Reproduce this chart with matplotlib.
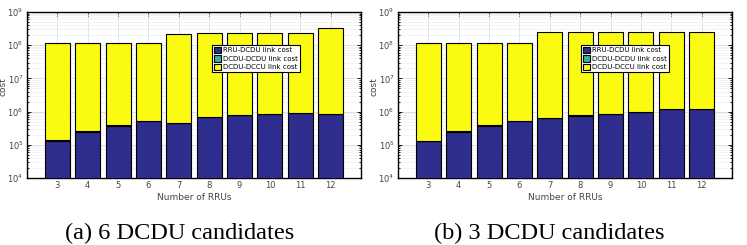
import numpy as np
import matplotlib
matplotlib.use('Agg')
import matplotlib.pyplot as plt

# Number of RRUs
rrus = [3, 4, 5, 6, 7, 8, 9, 10, 11, 12]

# (a) 6 DCDU candidates
rru_dcdu_a = [1.32e5, 2.5e5, 3.8e5, 5.2e5, 4.4e5, 6.9e5, 7.8e5, 8.5e5, 9.3e5, 8.7e5]
dcdu_dcdu_a = [4e3, 4e3, 4e3, 4e3, 4e3, 4e3, 4e3, 4e3, 4e3, 4e3]
total_a = [1.15e8, 1.15e8, 1.15e8, 1.15e8, 2.2e8, 2.35e8, 2.35e8, 2.35e8, 2.35e8, 3.4e8]

# (b) 3 DCDU candidates
rru_dcdu_b = [1.3e5, 2.5e5, 3.8e5, 5.2e5, 6.3e5, 7.6e5, 8.7e5, 1.0e6, 1.17e6, 1.17e6]
dcdu_dcdu_b = [4e3, 4e3, 4e3, 4e3, 4e3, 4e3, 4e3, 4e3, 4e3, 4e3]
total_b = [1.15e8, 1.15e8, 1.15e8, 1.15e8, 2.55e8, 2.55e8, 2.55e8, 2.55e8, 2.55e8, 2.55e8]

labels = ['RRU-DCDU link cost', 'DCDU-DCDU link cost', 'DCDU-DCCU link cost']
colors = ['#2E2C8C', '#2DB7A0', '#FAFB10']
captions = ['(a) 6 DCDU candidates', '(b) 3 DCDU candidates']

fig = plt.figure(figsize=(7.47, 2.45), dpi=100)
W, H = 747.0, 245.0
boxes = [(27, 12, 334, 166), (398, 12, 334, 166)]
legend_pos = [(212, 45), (581, 45)]
caption_x = [180, 549]

datasets = [(rru_dcdu_a, dcdu_dcdu_a, total_a), (rru_dcdu_b, dcdu_dcdu_b, total_b)]

for i, (rd, dd, tot) in enumerate(datasets):
    x0, y0, w, h = boxes[i]
    ax = fig.add_axes([x0 / W, 1 - (y0 + h) / H, w / W, h / H])
    rd = np.array(rd)
    dd = np.array(dd)
    tot = np.array(tot)
    yellow = tot - rd - dd
    b1 = ax.bar(rrus, rd, width=0.82, bottom=1e-10, color=colors[0], edgecolor='black', linewidth=0.8, zorder=3)
    b2 = ax.bar(rrus, dd, width=0.82, bottom=rd, color=colors[1], edgecolor='black', linewidth=0.8, zorder=3)
    b3 = ax.bar(rrus, yellow, width=0.82, bottom=rd + dd, color=colors[2], edgecolor='black', linewidth=0.8, zorder=3)
    ax.set_yscale('log')
    ax.set_ylim(1e4, 1e9)
    ax.set_xlim(2, 13)
    ax.set_xticks(rrus)
    ax.set_yticks([1e4, 1e5, 1e6, 1e7, 1e8, 1e9])
    ax.tick_params(axis='both', which='both', direction='in', top=True, right=True,
                   labelsize=6, labelcolor='#444444', length=3, width=0.6, pad=2.5)
    ax.tick_params(axis='y', which='minor', length=1.5)
    ax.grid(True, which='major', color='#dddddd', linewidth=0.6, zorder=0)
    ax.grid(True, which='minor', axis='y', color='#eeeeee', linewidth=0.5, zorder=0)
    for s in ax.spines.values():
        s.set_linewidth(1.0)
    ax.set_xlabel('Number of RRUs', fontsize=6.5, color='#444444', labelpad=2)
    ax.set_ylabel('cost', fontsize=6.5, color='#444444')
    ax.yaxis.set_label_coords(-0.058, 0.55)
    lx, ly = legend_pos[i]
    leg = ax.legend([b1, b2, b3], labels, fontsize=5,
                    loc='upper left', bbox_to_anchor=((lx - x0) / w, 1 - (ly - y0) / h),
                    borderaxespad=0, handlelength=1.1, handleheight=1.1, handletextpad=0.3,
                    labelspacing=0.25, borderpad=0.25, fancybox=False, framealpha=1)
    leg.get_frame().set_edgecolor('black')
    leg.get_frame().set_linewidth(0.8)
    fig.text(caption_x[i] / W, 1 - 233 / H, captions[i], fontsize=17.5,
             family='Liberation Serif', ha='center', va='center')

fig.savefig('out.png', dpi=100)
